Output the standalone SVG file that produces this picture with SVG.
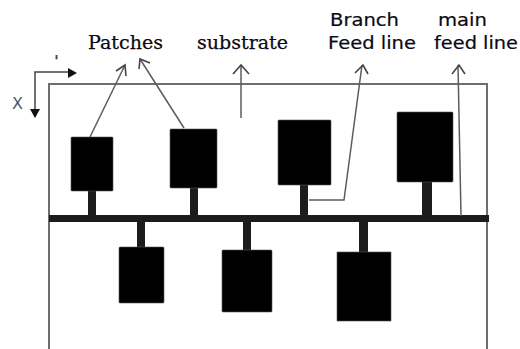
<svg xmlns="http://www.w3.org/2000/svg" width="520" height="349" viewBox="0 0 520 349">
<style>
.p{fill:#000;stroke:#555;stroke-width:.6}
.s{fill:#1c1c1c}
.c{fill:none;stroke:#5c5c5c;stroke-width:1.5}
.h{fill:none;stroke:#444;stroke-width:1.6}
.ser{font-family:"DejaVu Serif",serif;font-size:18.5px;fill:#0a0a14;stroke:#0a0a14;stroke-width:.25}
.san{font-family:"DejaVu Sans",sans-serif;font-size:17px;fill:#0a0a14;stroke:#0a0a14;stroke-width:.2}
</style>
<rect width="520" height="349" fill="#fff"/>
<g id="substrate"><path d="M49 349V84H487V349" fill="none" stroke="#6e6e6e" stroke-width="2"/></g>
<g id="feed-line"><rect x="49" y="215" width="440" height="7" fill="#1c1c1c"/></g>
<g id="patch-1"><rect class="s" x="88" y="190" width="8" height="26"/><rect class="p" x="71" y="137" width="42" height="54" rx="1"/></g>
<g id="patch-2"><rect class="s" x="190" y="187" width="8" height="29"/><rect class="p" x="170" y="129" width="47" height="59" rx="1"/></g>
<g id="patch-3"><rect class="s" x="300" y="184" width="8" height="32"/><rect class="p" x="278" y="120" width="53" height="65" rx="1"/></g>
<g id="patch-4"><rect class="s" x="422" y="181" width="10" height="35"/><rect class="p" x="397" y="112" width="56" height="70" rx="1"/></g>
<g id="patch-5"><rect class="s" x="137" y="221" width="8" height="27"/><rect class="p" x="119" y="247" width="45" height="56" rx="1"/></g>
<g id="patch-6"><rect class="s" x="243" y="221" width="8" height="30"/><rect class="p" x="222" y="250" width="50" height="62" rx="1"/></g>
<g id="patch-7"><rect class="s" x="359" y="221" width="9" height="32"/><rect class="p" x="337" y="252" width="54" height="69"/></g>
<g id="connectors">
<path class="c" d="M90 137L125 65"/><path class="h" d="M116 71L125 65L126 76"/>
<path class="c" d="M184 128L140 59"/><path class="h" d="M139 69L140 59L150 63"/>
<path class="c" d="M241 118V65"/><path class="h" d="M233 74L241 65L249 74"/>
<path class="c" d="M309 200H344L362 65"/><path class="h" d="M355 73L363 65L368 74"/>
<path class="c" d="M461 216L458 65"/><path class="h" d="M452 74L459 65L465 74"/>
<path d="M35 117V72H70" fill="none" stroke="#444" stroke-width="1.5"/>
<path d="M30 109H40L35 118Z" fill="#111"/><path d="M68 68L77 73L68 78Z" fill="#111"/>
</g>
<g id="labels">
<text class="ser" x="88" y="49" textLength="75" lengthAdjust="spacingAndGlyphs">Patches</text>
<text class="ser" x="197" y="49" textLength="91" lengthAdjust="spacingAndGlyphs">substrate</text>
<text class="san" x="330" y="26" textLength="69" lengthAdjust="spacingAndGlyphs">Branch</text>
<text class="san" x="328" y="49" textLength="88" lengthAdjust="spacingAndGlyphs">Feed line</text>
<text class="san" x="438" y="26" textLength="49" lengthAdjust="spacingAndGlyphs">main</text>
<text class="san" x="434" y="49" textLength="84" lengthAdjust="spacingAndGlyphs">feed line</text>
<text x="12" y="109" font-family="DejaVu Sans,sans-serif" font-size="16" fill="#4a5a72">X</text>
<text x="54" y="67" font-family="DejaVu Sans,sans-serif" font-size="16" font-weight="bold" fill="#3a4a62">'</text>
</g>
</svg>
